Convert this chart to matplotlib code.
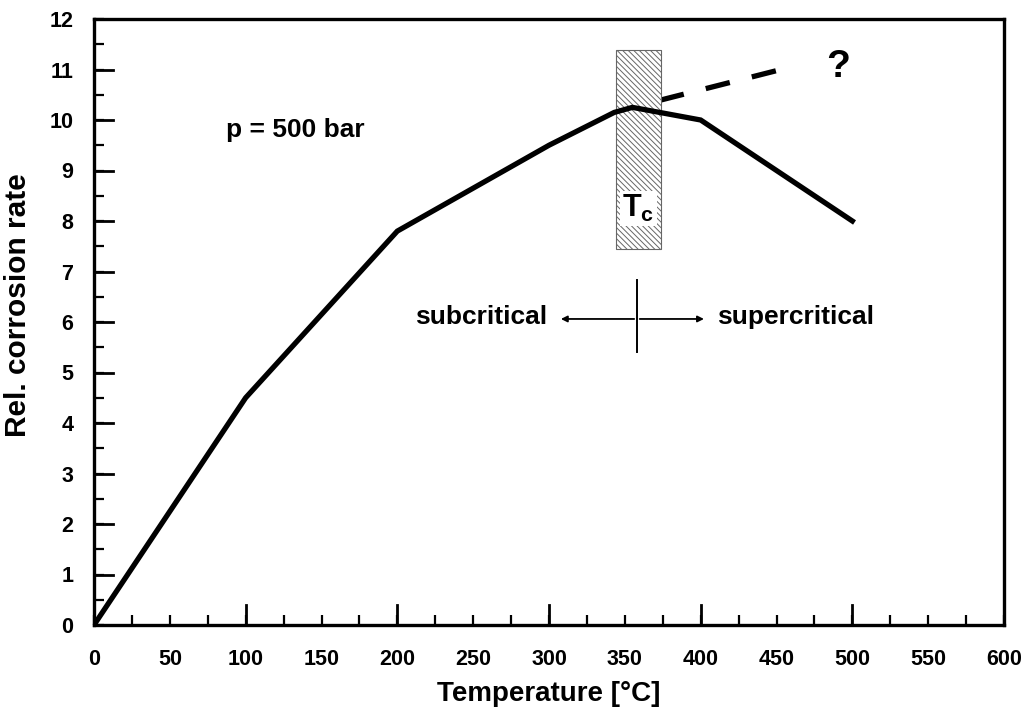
import matplotlib
matplotlib.use("Agg")
import matplotlib.pyplot as plt
from matplotlib.ticker import MultipleLocator
from matplotlib.patches import Rectangle

plt.rcParams['font.family'] = ['Liberation Sans', 'DejaVu Sans']
plt.rcParams['font.weight'] = 'bold'
plt.rcParams['axes.labelweight'] = 'bold'
plt.rcParams['mathtext.fontset'] = 'custom'
plt.rcParams['mathtext.rm'] = 'Liberation Sans:bold'
plt.rcParams['mathtext.bf'] = 'Liberation Sans:bold'
plt.rcParams['mathtext.it'] = 'Liberation Sans:bold'
plt.rcParams['hatch.linewidth'] = 0.7
plt.rcParams['hatch.color'] = 'black'

# data
temp = [0, 100, 200, 300, 343, 355, 400, 500]
rate = [0, 4.5, 7.8, 9.5, 10.15, 10.25, 10.0, 8.0]
dash_temp = [373, 453]
dash_rate = [10.39, 11.0]

fig = plt.figure(figsize=(10.26, 7.11), dpi=100)
ax = fig.add_axes([94 / 1026, 1 - 625 / 711, 910 / 1026, 606 / 711])

ax.plot(dash_temp, dash_rate, color='black', lw=3.8, dashes=(4.7, 4.3), zorder=1)

# critical temperature band
ax.add_patch(Rectangle((344, 7.45), 30, 3.93, facecolor='white', edgecolor='#666666',
                       hatch='\\\\\\\\\\\\', linewidth=0.8, zorder=2))

ax.plot(temp, rate, color='black', lw=3.8, solid_joinstyle='miter', zorder=3)

ax.text(359, 8.25, r'$\mathbf{T_c}$', fontsize=22, ha='center', va='center', zorder=4,
        bbox=dict(facecolor='white', edgecolor='none', pad=1.5))
ax.text(87, 9.8, 'p = 500 bar', fontsize=19, ha='left', va='center')
ax.text(490.5, 11.05, '?', fontsize=28, ha='center', va='center')

# sub/supercritical marker
ax.plot([358, 358], [5.4, 6.83], color='black', lw=1.4)
ax.annotate('', xy=(306, 6.06), xytext=(358, 6.06),
            arrowprops=dict(arrowstyle='-|>', color='black', lw=1.3, mutation_scale=9))
ax.annotate('', xy=(404, 6.06), xytext=(358, 6.06),
            arrowprops=dict(arrowstyle='-|>', color='black', lw=1.3, mutation_scale=9))
ax.text(299, 6.1, 'subcritical', fontsize=19, ha='right', va='center')
ax.text(411, 6.1, 'supercritical', fontsize=19, ha='left', va='center')

ax.set_xlim(0, 600)
ax.set_ylim(0, 12)
ax.xaxis.set_major_locator(MultipleLocator(50))
ax.xaxis.set_minor_locator(MultipleLocator(25))
ax.yaxis.set_major_locator(MultipleLocator(1))
ax.yaxis.set_minor_locator(MultipleLocator(0.5))
ax.tick_params(which='both', direction='in', width=1.6, length=7, labelsize=15.5)
ax.tick_params(axis='x', pad=17)
ax.tick_params(axis='y', pad=15)
# longer ticks every 100 on x and at every integer on y
for x in range(100, 600, 100):
    ax.plot([x, x], [0, 0.4], color='black', lw=2.0, clip_on=False)
for y in range(1, 12):
    ax.plot([0, 12.5], [y, y], color='black', lw=2.0, clip_on=False)
for s in ax.spines.values():
    s.set_linewidth(2.4)

ax.set_xlabel('Temperature [°C]', fontsize=20)
ax.set_ylabel('Rel. corrosion rate', fontsize=21.5)
ax.xaxis.set_label_coords(0.5, -0.093)
ax.yaxis.set_label_coords(-0.068, 0.528)

fig.savefig('out.png', dpi=100)
